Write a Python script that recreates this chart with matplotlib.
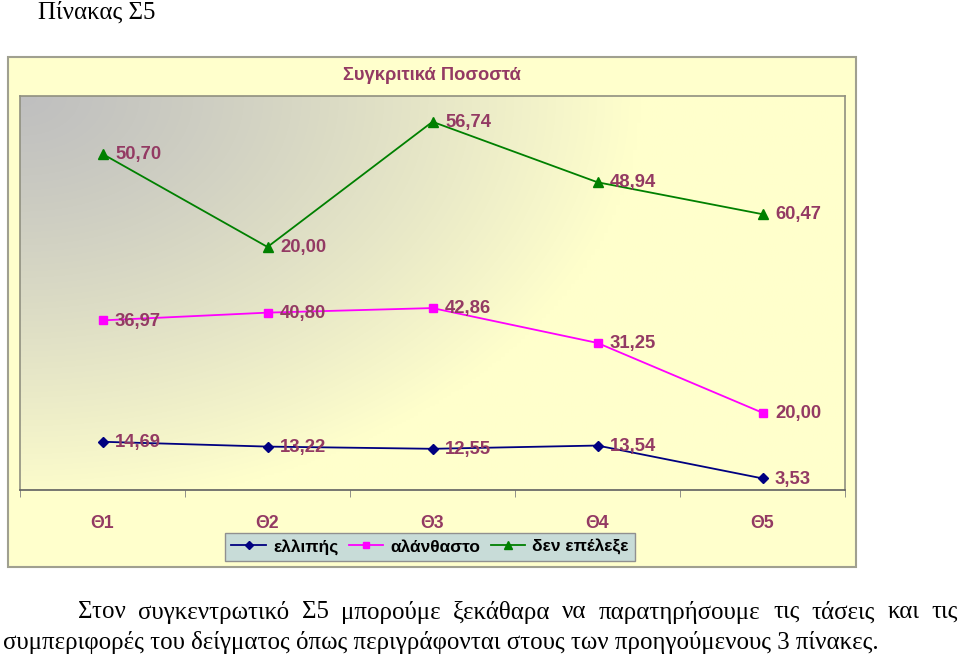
"""Stacked line chart 'Συγκριτικά Ποσοστά' with caption text."""

import numpy as np
import matplotlib
matplotlib.use('Agg')
import matplotlib.pyplot as plt
import matplotlib.patches
from matplotlib.lines import Line2D

# Data
categories = ['Θ1', 'Θ2', 'Θ3', 'Θ4', 'Θ5']
series_names = ['ελλιπής', 'αλάνθαστο', 'δεν επέλεξε']
ellipis = [14.69, 13.22, 12.55, 13.54, 3.53]
alanthasto = [36.97, 40.80, 42.86, 31.25, 20.00]
den_epelexe = [50.70, 20.00, 56.74, 48.94, 60.47]

title = 'Συγκριτικά Ποσοστά'
heading = 'Πίνακας Σ5'
caption_1 = ('Στον συγκεντρωτικό Σ5 μπορούμε ξεκάθαρα να παρατηρήσουμε '
             'τις τάσεις και τις')
caption_2 = ('συμπεριφορές του δείγματος όπως περιγράφονται στους των '
             'προηγούμενους 3 πίνακες.')

label_color = '#933a63'
line_colors = ['#000080', '#ff00ff', '#008000']
markers = ['D', 's', '^']
marker_sizes = [5, 6, 7]

W, H = 960, 657
fig = plt.figure(figsize=(W / 100, H / 100), dpi=100)


def fx(px):
    return px / W


def fy(py):
    return 1 - py / H


# Chart area box
fig.patches.append(matplotlib.patches.Rectangle(
    (fx(8), fy(567)), fx(848), 510 / H, transform=fig.transFigure,
    facecolor='#ffffcc', edgecolor='#a0a090', linewidth=1.5, zorder=-5))

ax = fig.add_axes([fx(20), fy(490), fx(825), 394 / H])
ax.set_zorder(1)
ax.set_xlim(-0.5, len(categories) - 0.5)

# Gradient background: gray top-left fading to pale yellow
xs = np.linspace(0, 1, 200)
ys = np.linspace(0, 1, 200)
X, Y = np.meshgrid(xs, ys)
t = np.clip(np.sqrt((X / 0.75) ** 2 + (Y / 1.05) ** 2), 0, 1) ** 1.2
gray = np.array([0.75, 0.75, 0.75])
yellow = np.array([1.0, 1.0, 0.8])
img = gray[None, None, :] * (1 - t[..., None]) + yellow[None, None, :] * t[..., None]
ax.imshow(img, extent=(-0.5, len(categories) - 0.5, 0, 120), aspect='auto',
          origin='upper', zorder=0, interpolation='bilinear')
ax.set_ylim(0, 120)

x = np.arange(len(categories))
values = [np.array(ellipis), np.array(alanthasto), np.array(den_epelexe)]
stacked = np.cumsum(values, axis=0)

for vals, ys_, color, mk, ms in zip(values, stacked, line_colors, markers, marker_sizes):
    ax.plot(x, ys_, color=color, marker=mk, markersize=ms, linewidth=1.3, zorder=3)
    for xi, yi, v in zip(x, ys_, vals):
        ax.annotate(f'{v:.2f}'.replace('.', ','), (xi, yi), xytext=(9, -0.5),
                    textcoords='offset points', ha='left', va='center',
                    fontsize=13.3, fontweight='bold', color=label_color,
                    family='Liberation Sans', zorder=4)

# Axes styling
for side in ('top', 'left', 'right'):
    ax.spines[side].set_color('#909080')
    ax.spines[side].set_linewidth(1.2)
ax.spines['bottom'].set_color('#606060')
ax.spines['bottom'].set_linewidth(1.2)
ax.set_yticks([])
ax.set_xticks(x)
ax.set_xticklabels(categories, fontsize=12.8, fontweight='bold', color=label_color,
                   family='Liberation Sans')
ax.tick_params(axis='x', which='major', length=0, pad=18)
ax.set_xticks(np.arange(-0.5, len(categories)), minor=True)
ax.tick_params(axis='x', which='minor', length=5, color='#808080', direction='out')

fig.text(fx(432), fy(75), title, ha='center', va='center', fontsize=13.2,
         fontweight='bold', color=label_color, family='Liberation Sans')

# Legend
handles = [Line2D([], [], color=c, marker=m, markersize=s - 1, linewidth=1.3)
           for c, m, s in zip(line_colors, markers, marker_sizes)]
leg = fig.legend(handles, series_names, loc='center', ncol=3,
                 bbox_to_anchor=(fx(430), fy(547)), frameon=True, fancybox=False,
                 handlelength=2.0, handletextpad=0.4, columnspacing=0.6,
                 borderpad=0.35, prop={'family': 'Liberation Sans', 'weight': 'bold',
                                       'size': 12.5})
leg.get_frame().set_facecolor('#c8dcd8')
leg.get_frame().set_edgecolor('#909090')
leg.get_frame().set_alpha(1)
leg.set_zorder(2)

# Heading and caption text
fig.text(fx(38), fy(12), heading, ha='left', va='center', fontsize=17.9,
         family='Liberation Serif')

# Justified first line between x=78 and x=958
serif = dict(fontsize=17.9, family='Liberation Serif', va='center')
renderer = fig.canvas.get_renderer()
words = caption_1.split()
texts = [fig.text(0, fy(612), w, ha='left', **serif) for w in words]
widths = [tx.get_window_extent(renderer).width for tx in texts]
left, right = 78, 958
gap = (right - left - sum(widths)) / (len(words) - 1)
pos = left
for tx, wd in zip(texts, widths):
    tx.set_x(fx(pos))
    pos += wd + gap

fig.text(fx(3), fy(642), caption_2, ha='left', **serif)

fig.savefig('out.png', dpi=100)
